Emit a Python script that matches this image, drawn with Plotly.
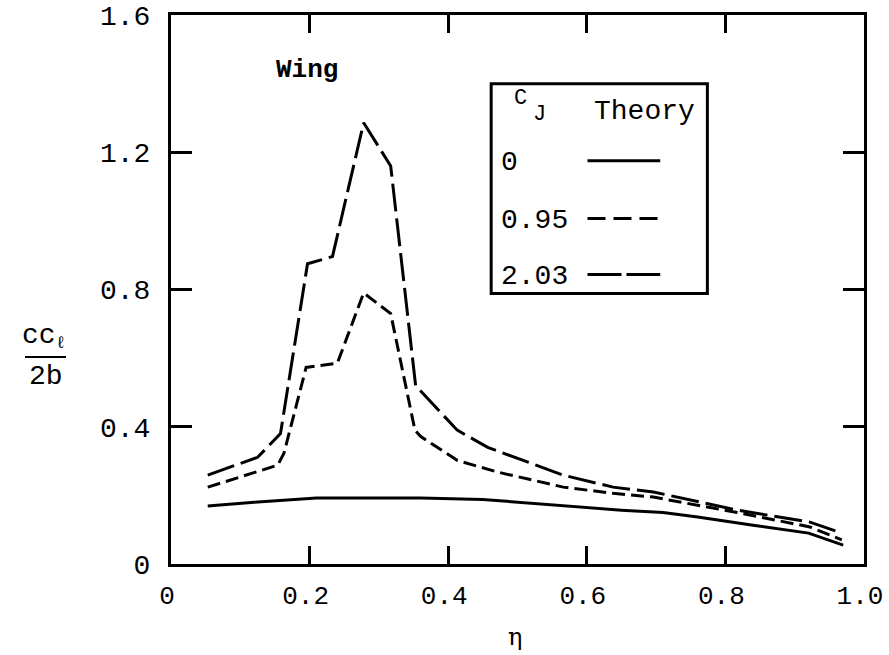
import plotly.graph_objects as go

# Spanwise load distribution, theory, for three jet momentum coefficients
eta_0 = [0.053, 0.12, 0.21, 0.30, 0.36, 0.45, 0.50, 0.58, 0.65, 0.71, 0.76, 0.84, 0.92, 0.97]
load_0 = [0.169, 0.180, 0.192, 0.193, 0.192, 0.188, 0.180, 0.168, 0.157, 0.150, 0.137, 0.113, 0.090, 0.055]

eta_095 = [0.053, 0.154, 0.163, 0.195, 0.24, 0.278, 0.317, 0.352, 0.36, 0.413, 0.471, 0.566, 0.638, 0.696, 0.817, 0.922, 0.968]
load_095 = [0.224, 0.288, 0.323, 0.573, 0.585, 0.790, 0.730, 0.390, 0.372, 0.302, 0.268, 0.224, 0.206, 0.195, 0.150, 0.108, 0.070]

eta_203 = [0.053, 0.125, 0.158, 0.197, 0.233, 0.278, 0.317, 0.353, 0.413, 0.457, 0.566, 0.638, 0.696, 0.817, 0.922, 0.968]
load_203 = [0.259, 0.311, 0.380, 0.875, 0.896, 1.286, 1.160, 0.520, 0.390, 0.340, 0.259, 0.224, 0.210, 0.157, 0.122, 0.090]

x_ticks = [0, 0.2, 0.4, 0.6, 0.8, 1.0]
x_labels = ["0", "0.2", "0.4", "0.6", "0.8", "1.0"]
y_ticks = [0, 0.4, 0.8, 1.2, 1.6]
y_labels = ["0", "0.4", "0.8", "1.2", "1.6"]

legend_cj = ["0", "0.95", "2.03"]

MONO = "Liberation Mono, Courier New, monospace"
FS = 28
SHORT_DASH = "13px,6px"
LONG_DASH = "28px,7px"
LW = 3

W, H = 889, 655
L, R, T, B = 171, 25, 15, 91
pw, ph = W - L - R, H - T - B


def px_x(v):
    return (v - L) / pw


def px_y(v):
    return (H - B - v) / ph


fig = go.Figure()
for xs, ys, dash in [(eta_0, load_0, "solid"),
                     (eta_095, load_095, SHORT_DASH),
                     (eta_203, load_203, LONG_DASH)]:
    fig.add_trace(go.Scatter(x=xs, y=ys, mode="lines",
                             line=dict(color="black", width=LW, dash=dash),
                             showlegend=False, hoverinfo="skip"))

axis_common = dict(showgrid=False, zeroline=False, showline=True, linecolor="black",
                   linewidth=3, mirror="ticks", ticks="inside", tickcolor="black",
                   tickwidth=3, automargin=False, ticklabeloverflow="allow")

fig.update_xaxes(range=[0, 1.0], tickvals=x_ticks, ticktext=x_labels, ticklen=18,
                 ticklabelstandoff=6, ticklabelshift=-4,
                 tickfont=dict(family=MONO, size=26, color="black"),
                 **axis_common)
fig.update_yaxes(range=[0, 1.6], tickvals=y_ticks, ticktext=y_labels, ticklen=21,
                 ticklabelstandoff=12, tickfont=dict(family=MONO, size=FS, color="black"),
                 **axis_common)

# Legend box drawn as a table: C_J value on the left, line style on the right
shapes = [dict(type="rect", xref="x", yref="y", x0=0.462, x1=0.774, y0=0.788, y1=1.400,
               line=dict(color="black", width=3), fillcolor="white", layer="above")]
rows_y = [1.175, 1.007, 0.844]
for ry, dash in zip(rows_y, ["solid", "18px,8px", "34px,5px"]):
    shapes.append(dict(type="line", xref="x", yref="y", x0=0.601, x1=0.706, y0=ry, y1=ry,
                       line=dict(color="black", width=LW, dash=dash), layer="above"))

annotations = []
for ry, lab in zip(rows_y, legend_cj):
    annotations.append(dict(x=0.474, y=ry - 0.005, xref="x", yref="y", text=lab,
                            showarrow=False, xanchor="left", yanchor="middle",
                            font=dict(family=MONO, size=FS, color="black")))
annotations += [
    dict(x=0.505, y=1.357, xref="x", yref="y", text="C", showarrow=False,
         xanchor="center", yanchor="middle", font=dict(family=MONO, size=22, color="black")),
    dict(x=0.532, y=1.31, xref="x", yref="y", text="J", showarrow=False,
         xanchor="center", yanchor="middle", font=dict(family=MONO, size=22, color="black")),
    dict(x=0.6075, y=1.32, xref="x", yref="y", text="Theory", showarrow=False,
         xanchor="left", yanchor="middle", font=dict(family=MONO, size=FS, color="black")),
    dict(x=0.148, y=1.44, xref="x", yref="y", text="<b>Wing</b>", showarrow=False,
         xanchor="left", yanchor="middle", font=dict(family=MONO, size=26, color="black")),
    # x-axis title
    dict(x=px_x(515), y=px_y(637), xref="paper", yref="paper", text="η", showarrow=False,
         xanchor="center", yanchor="middle",
         font=dict(family="DejaVu Serif", size=24, color="black")),
    # y-axis title as a stacked fraction
    dict(x=px_x(44), y=px_y(336), xref="paper", yref="paper",
         text="cc<span style='font-size:24px'><sub>ℓ</sub></span>", showarrow=False,
         xanchor="center", yanchor="middle",
         font=dict(family=MONO, size=FS, color="black")),
    dict(x=px_x(46), y=px_y(376), xref="paper", yref="paper", text="2b", showarrow=False,
         xanchor="center", yanchor="middle",
         font=dict(family=MONO, size=FS, color="black")),
]

shapes.append(dict(type="line", xref="paper", yref="paper",
                   x0=px_x(25), x1=px_x(66), y0=px_y(357), y1=px_y(357),
                   line=dict(color="black", width=2)))

fig.update_layout(width=W, height=H, margin=dict(l=L, r=R, t=T, b=B),
                  paper_bgcolor="white", plot_bgcolor="white",
                  shapes=shapes, annotations=annotations)

fig.write_html("out.html")
